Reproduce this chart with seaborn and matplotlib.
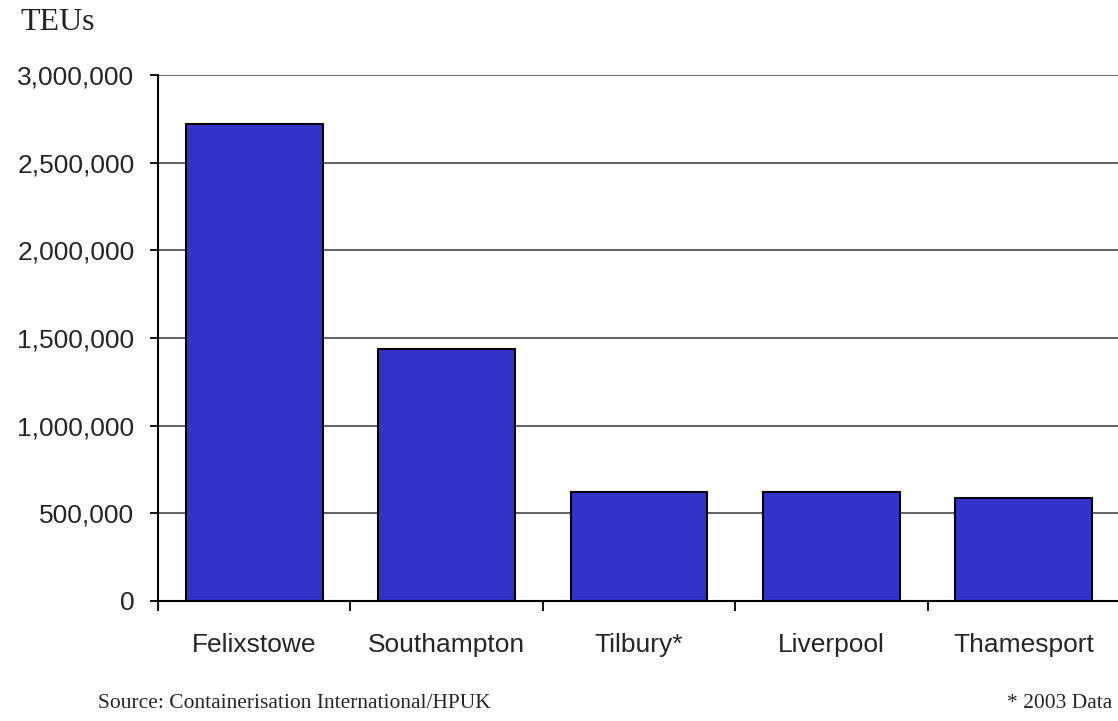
import matplotlib
matplotlib.use("Agg")
import matplotlib.pyplot as plt
import seaborn as sns
import pandas as pd
from matplotlib.ticker import FuncFormatter, MultipleLocator, FixedLocator

ports = ["Felixstowe", "Southampton", "Tilbury*", "Liverpool", "Thamesport"]
teus = [2720000, 1440000, 620000, 620000, 590000]

df = pd.DataFrame({"port": ports, "teus": teus})

sns.set_style("white")
plt.rcParams["font.family"] = ["Liberation Sans", "DejaVu Sans"]

fig = plt.figure(figsize=(11.18, 7.21), dpi=100)
ax = fig.add_axes([158 / 1118, 120 / 721, 962 / 1118, 526 / 721])

sns.barplot(data=df, x="port", y="teus", color="#3333CC", saturation=1,
            width=0.71, edgecolor="black", linewidth=1.5, ax=ax, zorder=3)

ax.set_xlim(-0.5, 4.5)
ax.set_ylim(0, 3000000)
ax.yaxis.set_major_locator(MultipleLocator(500000))
ax.yaxis.set_major_formatter(FuncFormatter(lambda v, p: f"{int(v):,}"))
ax.grid(axis="y", color="#555555", linewidth=1.3, zorder=0)
ax.set_axisbelow(True)

for s in ["top", "right"]:
    ax.spines[s].set_visible(False)
for s in ["left", "bottom"]:
    ax.spines[s].set_color("black")
    ax.spines[s].set_linewidth(1.5)
    ax.spines[s].set_zorder(4)

ax.set_xlabel("")
ax.set_ylabel("")
ax.tick_params(axis="y", which="major", direction="out", length=6, width=1.3,
               color="black", labelsize=19, pad=11, left=True)
ax.tick_params(axis="x", which="major", length=0, labelsize=19, pad=23)
ax.xaxis.set_minor_locator(FixedLocator([-0.5, 0.5, 1.5, 2.5, 3.5]))
ax.tick_params(axis="x", which="minor", direction="out", length=7, width=1.3,
               color="black", bottom=True)

fig.text(20 / 1118, 1 - 23 / 721, "TEUs", family="Liberation Serif",
         fontsize=23, va="center", ha="left", color="#222222")
fig.text(98 / 1118, 1 - 704 / 721, "Source: Containerisation International/HPUK",
         family="Liberation Serif", fontsize=15.5, va="center", ha="left")
fig.text(1112 / 1118, 1 - 704 / 721, "* 2003 Data",
         family="Liberation Serif", fontsize=15.5, va="center", ha="right")

fig.savefig("out.png", dpi=100)
